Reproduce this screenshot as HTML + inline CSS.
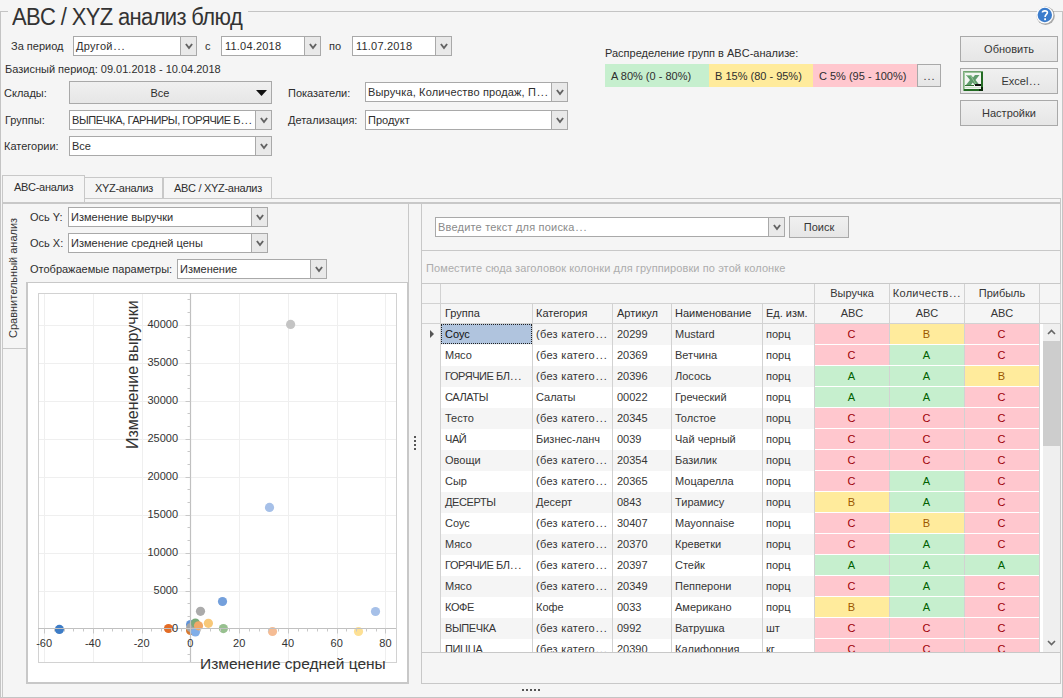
<!DOCTYPE html><html><head><meta charset="utf-8"><style>
html,body{margin:0;padding:0}
body{width:1063px;height:698px;overflow:hidden;position:relative;background:#f5f5f5;font-family:"Liberation Sans",sans-serif;font-size:11px;color:#363636}
.t{position:absolute;white-space:nowrap;line-height:13px}
.b{position:absolute}
.e{letter-spacing:0.9px;margin-left:0.8px}
</style></head><body><div class="b" style="left:0px;top:11px;width:1063px;height:687px;border:1px solid #c4c4c4;box-sizing:border-box"></div><div class="b" style="left:8px;top:5px;width:240px;height:16px;background:#f5f5f5"></div><div class="t" style="left:12px;top:4.2px;font-size:22px;color:#2e2e2e;line-height:26px;color:#333;letter-spacing:-0.65px;transform:scaleY(1.067);transform-origin:0 5px">ABC / XYZ анализ блюд</div><svg width="24" height="24" viewBox="0 0 24 24" style="position:absolute;left:1033px;top:3px">
<circle cx="12.6" cy="12.8" r="9.2" fill="#6a6a6a" opacity="0.55"/>
<circle cx="11.8" cy="12" r="8.6" fill="#fdfdfd"/>
<circle cx="11.8" cy="12" r="7.2" fill="#3b7ccc"/>
<path d="M9.4 9.6 C9.4 7.4 14.4 7.1 14.4 9.6 C14.4 11.3 12.1 11.6 12.1 13.9" fill="none" stroke="#fff" stroke-width="1.6"/>
<rect x="11.2" y="15.3" width="1.8" height="1.9" fill="#fff"/>
</svg><div class="t" style="left:11px;top:40px;font-size:11px;color:#2e2e2e;">За период</div><div class="b" style="left:73px;top:36px;width:124px;height:20px;background:#fff;border:1px solid #a9a9a9;box-sizing:border-box"></div><div class="b" style="left:180px;top:36px;width:17px;height:20px;background:#e9e9e9;border:1px solid #a9a9a9;box-sizing:border-box"></div><svg width="8" height="7" viewBox="0 0 8 7" style="position:absolute;left:184.5px;top:42.5px"><path d="M0.9 1 L4 5 L7.1 1" fill="none" stroke="#636363" stroke-width="1.9"/></svg><div class="t" style="left:76px;top:40px;font-size:11px;color:#2e2e2e;letter-spacing:0.3px">Другой<span class="e">...</span></div><div class="t" style="left:205px;top:40px;font-size:11px;color:#2e2e2e;">с</div><div class="b" style="left:221px;top:36px;width:100px;height:20px;background:#fff;border:1px solid #a9a9a9;box-sizing:border-box"></div><div class="b" style="left:304px;top:36px;width:17px;height:20px;background:#e9e9e9;border:1px solid #a9a9a9;box-sizing:border-box"></div><svg width="8" height="7" viewBox="0 0 8 7" style="position:absolute;left:308.5px;top:42.5px"><path d="M0.9 1 L4 5 L7.1 1" fill="none" stroke="#636363" stroke-width="1.9"/></svg><div class="t" style="left:225px;top:40px;font-size:11px;color:#2e2e2e;letter-spacing:0.2px">11.04.2018</div><div class="t" style="left:329px;top:40px;font-size:11px;color:#2e2e2e;">по</div><div class="b" style="left:352px;top:36px;width:100px;height:20px;background:#fff;border:1px solid #a9a9a9;box-sizing:border-box"></div><div class="b" style="left:435px;top:36px;width:17px;height:20px;background:#e9e9e9;border:1px solid #a9a9a9;box-sizing:border-box"></div><svg width="8" height="7" viewBox="0 0 8 7" style="position:absolute;left:439.5px;top:42.5px"><path d="M0.9 1 L4 5 L7.1 1" fill="none" stroke="#636363" stroke-width="1.9"/></svg><div class="t" style="left:356px;top:40px;font-size:11px;color:#2e2e2e;letter-spacing:0.2px">11.07.2018</div><div class="t" style="left:5px;top:63px;font-size:11px;color:#2e2e2e;">Базисный период: 09.01.2018 - 10.04.2018</div><div class="t" style="left:4px;top:87px;font-size:11px;color:#2e2e2e;">Склады:</div><div class="b" style="left:69px;top:81px;width:203px;height:23px;background:linear-gradient(#f0f0f0,#e6e6e6);border:1px solid #a9a9a9;box-sizing:border-box"></div><div class="t" style="left:69px;top:87px;font-size:11px;color:#2e2e2e;width:182px;text-align:center">Все</div><svg width="11" height="6" style="position:absolute;left:256px;top:90px"><path d="M0 0 L11 0 L5.5 6 Z" fill="#111"/></svg><div class="t" style="left:5px;top:114px;font-size:11px;color:#2e2e2e;">Группы:</div><div class="b" style="left:69px;top:110px;width:203px;height:20px;background:#fff;border:1px solid #a9a9a9;box-sizing:border-box"></div><div class="b" style="left:255px;top:110px;width:17px;height:20px;background:#e9e9e9;border:1px solid #a9a9a9;box-sizing:border-box"></div><svg width="8" height="7" viewBox="0 0 8 7" style="position:absolute;left:259.5px;top:116.5px"><path d="M0.9 1 L4 5 L7.1 1" fill="none" stroke="#636363" stroke-width="1.9"/></svg><div class="t" style="left:72px;top:114px;font-size:11px;color:#2e2e2e;letter-spacing:-0.45px">ВЫПЕЧКА, ГАРНИРЫ, ГОРЯЧИЕ Б<span class="e">...</span></div><div class="t" style="left:4px;top:140px;font-size:11px;color:#2e2e2e;">Категории:</div><div class="b" style="left:69px;top:136px;width:203px;height:20px;background:#fff;border:1px solid #a9a9a9;box-sizing:border-box"></div><div class="b" style="left:255px;top:136px;width:17px;height:20px;background:#e9e9e9;border:1px solid #a9a9a9;box-sizing:border-box"></div><svg width="8" height="7" viewBox="0 0 8 7" style="position:absolute;left:259.5px;top:142.5px"><path d="M0.9 1 L4 5 L7.1 1" fill="none" stroke="#636363" stroke-width="1.9"/></svg><div class="t" style="left:72px;top:140px;font-size:11px;color:#2e2e2e;">Все</div><div class="t" style="left:288px;top:87px;font-size:11px;color:#2e2e2e;">Показатели:</div><div class="b" style="left:365px;top:82px;width:203px;height:20px;background:#fff;border:1px solid #a9a9a9;box-sizing:border-box"></div><div class="b" style="left:551px;top:82px;width:17px;height:20px;background:#e9e9e9;border:1px solid #a9a9a9;box-sizing:border-box"></div><svg width="8" height="7" viewBox="0 0 8 7" style="position:absolute;left:555.5px;top:88.5px"><path d="M0.9 1 L4 5 L7.1 1" fill="none" stroke="#636363" stroke-width="1.9"/></svg><div class="t" style="left:368px;top:86px;font-size:11px;color:#2e2e2e;letter-spacing:0.15px">Выручка, Количество продаж, П<span class="e">...</span></div><div class="t" style="left:288px;top:114px;font-size:11px;color:#2e2e2e;">Детализация:</div><div class="b" style="left:365px;top:110px;width:203px;height:20px;background:#fff;border:1px solid #a9a9a9;box-sizing:border-box"></div><div class="b" style="left:551px;top:110px;width:17px;height:20px;background:#e9e9e9;border:1px solid #a9a9a9;box-sizing:border-box"></div><svg width="8" height="7" viewBox="0 0 8 7" style="position:absolute;left:555.5px;top:116.5px"><path d="M0.9 1 L4 5 L7.1 1" fill="none" stroke="#636363" stroke-width="1.9"/></svg><div class="t" style="left:368px;top:114px;font-size:11px;color:#2e2e2e;">Продукт</div><div class="t" style="left:605px;top:47px;font-size:11px;color:#2e2e2e;">Распределение групп в ABC-анализе:</div><div class="b" style="left:605px;top:64px;width:104px;height:23px;background:#c6efce"></div><div class="b" style="left:709px;top:64px;width:104px;height:23px;background:#ffeb9c"></div><div class="b" style="left:813px;top:64px;width:104px;height:23px;background:#ffc7ce"></div><div class="t" style="left:611px;top:70px;font-size:11px;color:#2e2e2e;">A 80% (0 - 80%)</div><div class="t" style="left:715px;top:70px;font-size:11px;color:#2e2e2e;">B 15% (80 - 95%)</div><div class="t" style="left:819px;top:70px;font-size:11px;color:#2e2e2e;">C 5% (95 - 100%)</div><div class="b" style="left:917px;top:64px;width:24px;height:23px;background:linear-gradient(#f0f0f0,#e6e6e6);border:1px solid #a9a9a9;box-sizing:border-box"></div><div class="t" style="left:917px;top:70px;width:24px;text-align:center"><span style="letter-spacing:1px;margin-left:1px">...</span></div><div class="b" style="left:960px;top:36px;width:98px;height:26px;background:linear-gradient(#f0f0f0,#e6e6e6);border:1px solid #a9a9a9;box-sizing:border-box"></div><div class="t" style="left:960px;top:43px;width:98px;text-align:center">Обновить</div><div class="b" style="left:960px;top:68px;width:98px;height:26px;background:linear-gradient(#f0f0f0,#e6e6e6);border:1px solid #a9a9a9;box-sizing:border-box"></div><div class="t" style="left:960px;top:75px;width:98px;text-align:center">&nbsp;&nbsp;&nbsp;&nbsp;&nbsp;&nbsp;&nbsp;&nbsp;Excel<span class="e">...</span></div><svg width="21" height="21" viewBox="0 0 21 21" style="position:absolute;left:963px;top:71px" shape-rendering="crispEdges">
<rect x="0" y="0" width="20" height="20" fill="#3f7f3f"/>
<rect x="0" y="0" width="20" height="1" fill="#6fa26f"/>
<rect x="0" y="0" width="1" height="20" fill="#7fae7f"/>
<rect x="1" y="1" width="18" height="1" fill="#9cc49c"/>
<rect x="1" y="1" width="1" height="18" fill="#a4c8a4"/>
<rect x="18" y="1" width="2" height="19" fill="#236b23"/>
<rect x="1" y="18" width="19" height="2" fill="#236b23"/>
<rect x="16" y="16" width="4" height="4" fill="#0a2a0a"/>
<rect x="2" y="2" width="16" height="16" fill="#f2f6f2"/>
<path d="M3 4 L8 4 L10 6.5 L12 4 L16.5 4 L12.5 9 L16.5 14 L11.5 14 L9.8 11.5 L8 14 L3 14 L7 9 Z" fill="#5f9c6c" shape-rendering="auto"/>
<path d="M4 4.5 L7.5 4.5 L13 13.5" stroke="#9fd09f" stroke-width="0.8" fill="none" shape-rendering="auto"/>
<rect x="12" y="13" width="6" height="2" fill="#101010"/>
<rect x="2" y="14" width="9" height="1" fill="#2f6f2f"/>
<rect x="2" y="16" width="16" height="1" fill="#cfe3cf"/>
</svg><div class="b" style="left:960px;top:100px;width:98px;height:26px;background:linear-gradient(#f0f0f0,#e6e6e6);border:1px solid #a9a9a9;box-sizing:border-box"></div><div class="t" style="left:960px;top:107px;width:98px;text-align:center">Настройки</div><div class="b" style="left:271px;top:198px;width:790px;height:1px;background:#c8c8c8"></div><div class="b" style="left:1060px;top:198px;width:1px;height:6px;background:#c8c8c8"></div><div class="b" style="left:84px;top:177px;width:79px;height:22px;border:1px solid #c8c8c8;box-sizing:border-box;background:#f5f5f5"></div><div class="b" style="left:163px;top:177px;width:109px;height:22px;border:1px solid #c8c8c8;box-sizing:border-box;background:#f5f5f5"></div><div class="b" style="left:2px;top:175px;width:83px;height:29px;border:1px solid #c8c8c8;border-bottom:none;box-sizing:border-box;background:#f5f5f5"></div><div class="t" style="left:14px;top:181px;font-size:11px;color:#2e2e2e;letter-spacing:-0.3px">ABC-анализ</div><div class="t" style="left:95px;top:182px;font-size:11px;color:#2e2e2e;letter-spacing:-0.3px">XYZ-анализ</div><div class="t" style="left:174px;top:182px;font-size:11px;color:#2e2e2e;letter-spacing:-0.3px">ABC / XYZ-анализ</div><div class="b" style="left:2px;top:202px;width:1059px;height:2px;background:#c8c8c8"></div><div class="b" style="left:2px;top:202px;width:1px;height:496px;background:#c8c8c8"></div><div class="b" style="left:2px;top:348px;width:25px;height:1px;background:#c8c8c8"></div><div class="t" style="left:7px;top:338px;transform-origin:0 0;transform:rotate(-90deg);font-size:11px;line-height:13px">Сравнительный анализ</div><div class="t" style="left:30px;top:211px;font-size:11px;color:#2e2e2e;">Ось Y:</div><div class="b" style="left:68px;top:207px;width:200px;height:20px;background:#fff;border:1px solid #a9a9a9;box-sizing:border-box"></div><div class="b" style="left:251px;top:207px;width:17px;height:20px;background:#e9e9e9;border:1px solid #a9a9a9;box-sizing:border-box"></div><svg width="8" height="7" viewBox="0 0 8 7" style="position:absolute;left:255.5px;top:213.5px"><path d="M0.9 1 L4 5 L7.1 1" fill="none" stroke="#636363" stroke-width="1.9"/></svg><div class="t" style="left:71px;top:211px;font-size:11px;color:#2e2e2e;">Изменение выручки</div><div class="t" style="left:30px;top:237px;font-size:11px;color:#2e2e2e;">Ось X:</div><div class="b" style="left:68px;top:233px;width:200px;height:20px;background:#fff;border:1px solid #a9a9a9;box-sizing:border-box"></div><div class="b" style="left:251px;top:233px;width:17px;height:20px;background:#e9e9e9;border:1px solid #a9a9a9;box-sizing:border-box"></div><svg width="8" height="7" viewBox="0 0 8 7" style="position:absolute;left:255.5px;top:239.5px"><path d="M0.9 1 L4 5 L7.1 1" fill="none" stroke="#636363" stroke-width="1.9"/></svg><div class="t" style="left:71px;top:237px;font-size:11px;color:#2e2e2e;">Изменение средней цены</div><div class="t" style="left:30px;top:263px;font-size:11px;color:#2e2e2e;">Отображаемые параметры:</div><div class="b" style="left:177px;top:259px;width:150px;height:20px;background:#fff;border:1px solid #a9a9a9;box-sizing:border-box"></div><div class="b" style="left:310px;top:259px;width:17px;height:20px;background:#e9e9e9;border:1px solid #a9a9a9;box-sizing:border-box"></div><svg width="8" height="7" viewBox="0 0 8 7" style="position:absolute;left:314.5px;top:265.5px"><path d="M0.9 1 L4 5 L7.1 1" fill="none" stroke="#636363" stroke-width="1.9"/></svg><div class="t" style="left:180px;top:263px;font-size:11px;color:#2e2e2e;">Изменение</div><div class="b" style="left:26px;top:282px;width:383px;height:402px;background:#fff;border:2px solid #c8c8c8;border-top:1px solid #c8c8c8;box-sizing:border-box"></div><svg width="1063" height="698" style="position:absolute;left:0;top:0"><line x1="44.5" y1="293" x2="44.5" y2="662" stroke="#efefef" stroke-width="1"/><line x1="93.5" y1="293" x2="93.5" y2="662" stroke="#efefef" stroke-width="1"/><line x1="142.5" y1="293" x2="142.5" y2="662" stroke="#efefef" stroke-width="1"/><line x1="190.5" y1="293" x2="190.5" y2="662" stroke="#efefef" stroke-width="1"/><line x1="239.5" y1="293" x2="239.5" y2="662" stroke="#efefef" stroke-width="1"/><line x1="288.5" y1="293" x2="288.5" y2="662" stroke="#efefef" stroke-width="1"/><line x1="337.5" y1="293" x2="337.5" y2="662" stroke="#efefef" stroke-width="1"/><line x1="385.5" y1="293" x2="385.5" y2="662" stroke="#efefef" stroke-width="1"/><line x1="38" y1="591.5" x2="396" y2="591.5" stroke="#efefef" stroke-width="1"/><line x1="38" y1="553.5" x2="396" y2="553.5" stroke="#efefef" stroke-width="1"/><line x1="38" y1="515.5" x2="396" y2="515.5" stroke="#efefef" stroke-width="1"/><line x1="38" y1="477.5" x2="396" y2="477.5" stroke="#efefef" stroke-width="1"/><line x1="38" y1="439.5" x2="396" y2="439.5" stroke="#efefef" stroke-width="1"/><line x1="38" y1="401.5" x2="396" y2="401.5" stroke="#efefef" stroke-width="1"/><line x1="38" y1="363.5" x2="396" y2="363.5" stroke="#efefef" stroke-width="1"/><line x1="38" y1="325.5" x2="396" y2="325.5" stroke="#efefef" stroke-width="1"/><rect x="38.5" y="293.5" width="358" height="369" fill="none" stroke="#d2d2d2" stroke-width="1"/><circle cx="290.6" cy="324.4" r="4.6" fill="#c4c4c4"/><circle cx="269.5" cy="507.4" r="4.6" fill="#a6c0e8"/><circle cx="59.4" cy="629.4" r="4.6" fill="#3d7cc6"/><circle cx="168.5" cy="628.5" r="4.6" fill="#e36c26"/><circle cx="222.5" cy="601.5" r="4.6" fill="#74a0dc"/><circle cx="200.5" cy="611.3" r="4.6" fill="#ababab"/><circle cx="375.5" cy="611.5" r="4.6" fill="#a6c0e8"/><circle cx="190.6" cy="624.5" r="4.6" fill="#5f92d8"/><circle cx="190.6" cy="630.5" r="4.6" fill="#d8782e"/><circle cx="190.8" cy="627.5" r="4.6" fill="#a4a4a4"/><circle cx="195.4" cy="623.0" r="4.6" fill="#7aaa7a"/><circle cx="208.4" cy="623.3" r="4.6" fill="#f8c878"/><circle cx="223.4" cy="628.6" r="4.6" fill="#97c08f"/><circle cx="195.4" cy="632.0" r="4.6" fill="#80aee8"/><circle cx="198.5" cy="625.8" r="4.6" fill="#f0a868"/><circle cx="272.5" cy="631.5" r="4.6" fill="#f5bc94"/><circle cx="358.5" cy="631.5" r="4.6" fill="#fde094"/><line x1="38" y1="628.5" x2="396" y2="628.5" stroke="#c0c0c0" stroke-width="1.2"/><line x1="190.5" y1="293" x2="190.5" y2="662" stroke="#c0c0c0" stroke-width="1.2"/><line x1="44.5" y1="628.5" x2="44.5" y2="633.5" stroke="#c8c8c8" stroke-width="1"/><line x1="54.5" y1="628.5" x2="54.5" y2="631.5" stroke="#c8c8c8" stroke-width="1"/><line x1="64.5" y1="628.5" x2="64.5" y2="631.5" stroke="#c8c8c8" stroke-width="1"/><line x1="73.5" y1="628.5" x2="73.5" y2="631.5" stroke="#c8c8c8" stroke-width="1"/><line x1="83.5" y1="628.5" x2="83.5" y2="631.5" stroke="#c8c8c8" stroke-width="1"/><line x1="93.5" y1="628.5" x2="93.5" y2="633.5" stroke="#c8c8c8" stroke-width="1"/><line x1="103.5" y1="628.5" x2="103.5" y2="631.5" stroke="#c8c8c8" stroke-width="1"/><line x1="112.5" y1="628.5" x2="112.5" y2="631.5" stroke="#c8c8c8" stroke-width="1"/><line x1="122.5" y1="628.5" x2="122.5" y2="631.5" stroke="#c8c8c8" stroke-width="1"/><line x1="132.5" y1="628.5" x2="132.5" y2="631.5" stroke="#c8c8c8" stroke-width="1"/><line x1="142.5" y1="628.5" x2="142.5" y2="633.5" stroke="#c8c8c8" stroke-width="1"/><line x1="151.5" y1="628.5" x2="151.5" y2="631.5" stroke="#c8c8c8" stroke-width="1"/><line x1="161.5" y1="628.5" x2="161.5" y2="631.5" stroke="#c8c8c8" stroke-width="1"/><line x1="171.5" y1="628.5" x2="171.5" y2="631.5" stroke="#c8c8c8" stroke-width="1"/><line x1="181.5" y1="628.5" x2="181.5" y2="631.5" stroke="#c8c8c8" stroke-width="1"/><line x1="190.5" y1="628.5" x2="190.5" y2="633.5" stroke="#c8c8c8" stroke-width="1"/><line x1="200.5" y1="628.5" x2="200.5" y2="631.5" stroke="#c8c8c8" stroke-width="1"/><line x1="210.5" y1="628.5" x2="210.5" y2="631.5" stroke="#c8c8c8" stroke-width="1"/><line x1="220.5" y1="628.5" x2="220.5" y2="631.5" stroke="#c8c8c8" stroke-width="1"/><line x1="229.5" y1="628.5" x2="229.5" y2="631.5" stroke="#c8c8c8" stroke-width="1"/><line x1="239.5" y1="628.5" x2="239.5" y2="633.5" stroke="#c8c8c8" stroke-width="1"/><line x1="249.5" y1="628.5" x2="249.5" y2="631.5" stroke="#c8c8c8" stroke-width="1"/><line x1="259.5" y1="628.5" x2="259.5" y2="631.5" stroke="#c8c8c8" stroke-width="1"/><line x1="268.5" y1="628.5" x2="268.5" y2="631.5" stroke="#c8c8c8" stroke-width="1"/><line x1="278.5" y1="628.5" x2="278.5" y2="631.5" stroke="#c8c8c8" stroke-width="1"/><line x1="288.5" y1="628.5" x2="288.5" y2="633.5" stroke="#c8c8c8" stroke-width="1"/><line x1="298.5" y1="628.5" x2="298.5" y2="631.5" stroke="#c8c8c8" stroke-width="1"/><line x1="307.5" y1="628.5" x2="307.5" y2="631.5" stroke="#c8c8c8" stroke-width="1"/><line x1="317.5" y1="628.5" x2="317.5" y2="631.5" stroke="#c8c8c8" stroke-width="1"/><line x1="327.5" y1="628.5" x2="327.5" y2="631.5" stroke="#c8c8c8" stroke-width="1"/><line x1="337.5" y1="628.5" x2="337.5" y2="633.5" stroke="#c8c8c8" stroke-width="1"/><line x1="346.5" y1="628.5" x2="346.5" y2="631.5" stroke="#c8c8c8" stroke-width="1"/><line x1="356.5" y1="628.5" x2="356.5" y2="631.5" stroke="#c8c8c8" stroke-width="1"/><line x1="366.5" y1="628.5" x2="366.5" y2="631.5" stroke="#c8c8c8" stroke-width="1"/><line x1="376.5" y1="628.5" x2="376.5" y2="631.5" stroke="#c8c8c8" stroke-width="1"/><line x1="385.5" y1="628.5" x2="385.5" y2="633.5" stroke="#c8c8c8" stroke-width="1"/><line x1="185.5" y1="628.5" x2="190.5" y2="628.5" stroke="#c8c8c8" stroke-width="1"/><line x1="187.5" y1="616.5" x2="190.5" y2="616.5" stroke="#c8c8c8" stroke-width="1"/><line x1="187.5" y1="603.5" x2="190.5" y2="603.5" stroke="#c8c8c8" stroke-width="1"/><line x1="185.5" y1="591.5" x2="190.5" y2="591.5" stroke="#c8c8c8" stroke-width="1"/><line x1="187.5" y1="578.5" x2="190.5" y2="578.5" stroke="#c8c8c8" stroke-width="1"/><line x1="187.5" y1="565.5" x2="190.5" y2="565.5" stroke="#c8c8c8" stroke-width="1"/><line x1="185.5" y1="553.5" x2="190.5" y2="553.5" stroke="#c8c8c8" stroke-width="1"/><line x1="187.5" y1="540.5" x2="190.5" y2="540.5" stroke="#c8c8c8" stroke-width="1"/><line x1="187.5" y1="527.5" x2="190.5" y2="527.5" stroke="#c8c8c8" stroke-width="1"/><line x1="185.5" y1="515.5" x2="190.5" y2="515.5" stroke="#c8c8c8" stroke-width="1"/><line x1="187.5" y1="502.5" x2="190.5" y2="502.5" stroke="#c8c8c8" stroke-width="1"/><line x1="187.5" y1="489.5" x2="190.5" y2="489.5" stroke="#c8c8c8" stroke-width="1"/><line x1="185.5" y1="477.5" x2="190.5" y2="477.5" stroke="#c8c8c8" stroke-width="1"/><line x1="187.5" y1="464.5" x2="190.5" y2="464.5" stroke="#c8c8c8" stroke-width="1"/><line x1="187.5" y1="451.5" x2="190.5" y2="451.5" stroke="#c8c8c8" stroke-width="1"/><line x1="185.5" y1="439.5" x2="190.5" y2="439.5" stroke="#c8c8c8" stroke-width="1"/><line x1="187.5" y1="426.5" x2="190.5" y2="426.5" stroke="#c8c8c8" stroke-width="1"/><line x1="187.5" y1="413.5" x2="190.5" y2="413.5" stroke="#c8c8c8" stroke-width="1"/><line x1="185.5" y1="401.5" x2="190.5" y2="401.5" stroke="#c8c8c8" stroke-width="1"/><line x1="187.5" y1="388.5" x2="190.5" y2="388.5" stroke="#c8c8c8" stroke-width="1"/><line x1="187.5" y1="375.5" x2="190.5" y2="375.5" stroke="#c8c8c8" stroke-width="1"/><line x1="185.5" y1="363.5" x2="190.5" y2="363.5" stroke="#c8c8c8" stroke-width="1"/><line x1="187.5" y1="350.5" x2="190.5" y2="350.5" stroke="#c8c8c8" stroke-width="1"/><line x1="187.5" y1="337.5" x2="190.5" y2="337.5" stroke="#c8c8c8" stroke-width="1"/><line x1="185.5" y1="325.5" x2="190.5" y2="325.5" stroke="#c8c8c8" stroke-width="1"/><line x1="187.5" y1="312.5" x2="190.5" y2="312.5" stroke="#c8c8c8" stroke-width="1"/><line x1="187.5" y1="299.5" x2="190.5" y2="299.5" stroke="#c8c8c8" stroke-width="1"/><line x1="187.5" y1="641.5" x2="190.5" y2="641.5" stroke="#c8c8c8" stroke-width="1"/><line x1="187.5" y1="654.5" x2="190.5" y2="654.5" stroke="#c8c8c8" stroke-width="1"/></svg><div class="t" style="left:14.1px;top:637px;width:60px;text-align:center;color:#333">-60</div><div class="t" style="left:62.9px;top:637px;width:60px;text-align:center;color:#333">-40</div><div class="t" style="left:111.6px;top:637px;width:60px;text-align:center;color:#333">-20</div><div class="t" style="left:160.4px;top:637px;width:60px;text-align:center;color:#333">0</div><div class="t" style="left:209.2px;top:637px;width:60px;text-align:center;color:#333">20</div><div class="t" style="left:257.9px;top:637px;width:60px;text-align:center;color:#333">40</div><div class="t" style="left:306.7px;top:637px;width:60px;text-align:center;color:#333">60</div><div class="t" style="left:355.4px;top:637px;width:60px;text-align:center;color:#333">80</div><div class="t" style="left:100px;top:621.5px;width:78px;text-align:right;color:#333">0</div><div class="t" style="left:100px;top:583.5px;width:78px;text-align:right;color:#333">5000</div><div class="t" style="left:100px;top:545.5px;width:78px;text-align:right;color:#333">10000</div><div class="t" style="left:100px;top:507.5px;width:78px;text-align:right;color:#333">15000</div><div class="t" style="left:100px;top:469.6px;width:78px;text-align:right;color:#333">20000</div><div class="t" style="left:100px;top:431.6px;width:78px;text-align:right;color:#333">25000</div><div class="t" style="left:100px;top:393.6px;width:78px;text-align:right;color:#333">30000</div><div class="t" style="left:100px;top:355.6px;width:78px;text-align:right;color:#333">35000</div><div class="t" style="left:100px;top:317.6px;width:78px;text-align:right;color:#333">40000</div><div class="t" style="left:200px;top:655px;font-size:15.5px;line-height:18px;color:#333">Изменение средней цены</div><div class="t" style="left:124px;top:449px;transform-origin:0 0;transform:rotate(-90deg);font-size:16px;line-height:18px;color:#333">Изменение выручки</div><div class="b" style="left:408px;top:204px;width:1px;height:480px;background:#c8c8c8"></div><div class="b" style="left:414px;top:436px;width:2px;height:2px;background:#555"></div><div class="b" style="left:414px;top:440px;width:2px;height:2px;background:#555"></div><div class="b" style="left:414px;top:444px;width:2px;height:2px;background:#555"></div><div class="b" style="left:414px;top:448px;width:2px;height:2px;background:#555"></div><div class="b" style="left:421px;top:202px;width:640px;height:482px;border:1px solid #c8c8c8;border-top:2px solid #c8c8c8;box-sizing:border-box;background:#f5f5f5"></div><div class="b" style="left:435px;top:217px;width:350px;height:20px;background:#fff;border:1px solid #a9a9a9;box-sizing:border-box"></div><div class="b" style="left:768px;top:217px;width:17px;height:20px;background:#e9e9e9;border:1px solid #a9a9a9;box-sizing:border-box"></div><svg width="8" height="7" viewBox="0 0 8 7" style="position:absolute;left:772.5px;top:223.5px"><path d="M0.9 1 L4 5 L7.1 1" fill="none" stroke="#636363" stroke-width="1.9"/></svg><div class="t" style="left:438px;top:221px;font-size:11px;color:#8a8a8a;letter-spacing:0.2px">Введите текст для поиска<span class="e">...</span></div><div class="b" style="left:789px;top:216px;width:60px;height:22px;background:linear-gradient(#f0f0f0,#e6e6e6);border:1px solid #a9a9a9;box-sizing:border-box"></div><div class="t" style="left:789px;top:221px;width:60px;text-align:center">Поиск</div><div class="b" style="left:422px;top:250px;width:639px;height:1px;background:#c8c8c8"></div><div class="t" style="left:426px;top:262px;font-size:11px;color:#acacac;letter-spacing:0.1px">Поместите сюда заголовок колонки для группировки по этой колонке</div><div class="b" style="left:422px;top:283px;width:639px;height:1px;background:#c8c8c8"></div><div class="b" style="left:422px;top:284px;width:639px;height:40px;background:#f5f5f5"></div><div class="b" style="left:440px;top:284px;width:1px;height:369px;background:#d2d2d2"></div><div class="b" style="left:422px;top:303px;width:639px;height:1px;background:#d2d2d2"></div><div class="b" style="left:422px;top:323px;width:639px;height:1px;background:#d2d2d2"></div><div class="b" style="left:532px;top:304px;width:1px;height:20px;background:#d2d2d2"></div><div class="b" style="left:612px;top:304px;width:1px;height:20px;background:#d2d2d2"></div><div class="b" style="left:671px;top:304px;width:1px;height:20px;background:#d2d2d2"></div><div class="b" style="left:762px;top:304px;width:1px;height:20px;background:#d2d2d2"></div><div class="b" style="left:814px;top:284px;width:1px;height:40px;background:#d2d2d2"></div><div class="b" style="left:889px;top:284px;width:1px;height:40px;background:#d2d2d2"></div><div class="b" style="left:964px;top:284px;width:1px;height:40px;background:#d2d2d2"></div><div class="b" style="left:1039px;top:284px;width:1px;height:40px;background:#d2d2d2"></div><div class="b" style="left:1060px;top:284px;width:1px;height:40px;background:#d2d2d2"></div><div class="t" style="left:445px;top:307px;font-size:11px;color:#2e2e2e;">Группа</div><div class="t" style="left:536px;top:307px;font-size:11px;color:#2e2e2e;">Категория</div><div class="t" style="left:617px;top:307px;font-size:11px;color:#2e2e2e;">Артикул</div><div class="t" style="left:675px;top:307px;font-size:11px;color:#2e2e2e;">Наименование</div><div class="t" style="left:766px;top:307px;font-size:11px;color:#2e2e2e;">Ед. изм.</div><div class="t" style="left:815px;top:287px;width:74px;text-align:center;letter-spacing:0px">Выручка</div><div class="t" style="left:815px;top:307px;width:74px;text-align:center">ABC</div><div class="t" style="left:890px;top:287px;width:74px;text-align:center;letter-spacing:0.3px">Количеств<span class="e">...</span></div><div class="t" style="left:890px;top:307px;width:74px;text-align:center">ABC</div><div class="t" style="left:965px;top:287px;width:74px;text-align:center;letter-spacing:0px">Прибыль</div><div class="t" style="left:965px;top:307px;width:74px;text-align:center">ABC</div><div class="b" style="left:441px;top:324px;width:619px;height:328px;overflow:hidden"><div class="b" style="left:0;top:0px;width:374px;height:21px;background:#f5f5f5"></div><div class="b" style="left:91px;top:0px;width:1px;height:21px;background:#d2d2d2"></div><div class="b" style="left:171px;top:0px;width:1px;height:21px;background:#d2d2d2"></div><div class="b" style="left:230px;top:0px;width:1px;height:21px;background:#d2d2d2"></div><div class="b" style="left:321px;top:0px;width:1px;height:21px;background:#d2d2d2"></div><div class="t" style="left:4px;top:4px;letter-spacing:0px">Соус</div><div class="t" style="left:95px;top:4px;letter-spacing:0.3px">(без катего<span class="e">...</span></div><div class="t" style="left:176px;top:4px;letter-spacing:0px">20299</div><div class="t" style="left:234px;top:4px;letter-spacing:0px">Mustard</div><div class="t" style="left:325px;top:4px;letter-spacing:0px">порц</div><div class="b" style="left:373px;top:0px;width:75px;height:20px;background:#ffc7ce"></div><div class="t" style="left:373px;top:4px;width:75px;text-align:center;color:#9c0006">C</div><div class="b" style="left:448px;top:0px;width:75px;height:20px;background:#ffeb9c"></div><div class="t" style="left:448px;top:4px;width:75px;text-align:center;color:#9c5700">B</div><div class="b" style="left:523px;top:0px;width:75px;height:20px;background:#ffc7ce"></div><div class="t" style="left:523px;top:4px;width:75px;text-align:center;color:#9c0006">C</div><div class="b" style="left:373px;top:0px;width:1px;height:21px;background:#d2d2d2"></div><div class="b" style="left:448px;top:0px;width:1px;height:21px;background:#d2d2d2"></div><div class="b" style="left:523px;top:0px;width:1px;height:21px;background:#d2d2d2"></div><div class="b" style="left:598px;top:0px;width:1px;height:21px;background:#d2d2d2"></div><div class="b" style="left:374px;top:20px;width:224px;height:1px;background:#fff"></div><div class="b" style="left:0;top:21px;width:374px;height:21px;background:#ffffff"></div><div class="b" style="left:91px;top:21px;width:1px;height:21px;background:#d2d2d2"></div><div class="b" style="left:171px;top:21px;width:1px;height:21px;background:#d2d2d2"></div><div class="b" style="left:230px;top:21px;width:1px;height:21px;background:#d2d2d2"></div><div class="b" style="left:321px;top:21px;width:1px;height:21px;background:#d2d2d2"></div><div class="t" style="left:4px;top:25px;letter-spacing:0px">Мясо</div><div class="t" style="left:95px;top:25px;letter-spacing:0.3px">(без катего<span class="e">...</span></div><div class="t" style="left:176px;top:25px;letter-spacing:0px">20369</div><div class="t" style="left:234px;top:25px;letter-spacing:0px">Ветчина</div><div class="t" style="left:325px;top:25px;letter-spacing:0px">порц</div><div class="b" style="left:373px;top:21px;width:75px;height:20px;background:#ffc7ce"></div><div class="t" style="left:373px;top:25px;width:75px;text-align:center;color:#9c0006">C</div><div class="b" style="left:448px;top:21px;width:75px;height:20px;background:#c6efce"></div><div class="t" style="left:448px;top:25px;width:75px;text-align:center;color:#006100">A</div><div class="b" style="left:523px;top:21px;width:75px;height:20px;background:#ffc7ce"></div><div class="t" style="left:523px;top:25px;width:75px;text-align:center;color:#9c0006">C</div><div class="b" style="left:373px;top:21px;width:1px;height:21px;background:#d2d2d2"></div><div class="b" style="left:448px;top:21px;width:1px;height:21px;background:#d2d2d2"></div><div class="b" style="left:523px;top:21px;width:1px;height:21px;background:#d2d2d2"></div><div class="b" style="left:598px;top:21px;width:1px;height:21px;background:#d2d2d2"></div><div class="b" style="left:374px;top:41px;width:224px;height:1px;background:#fff"></div><div class="b" style="left:0;top:42px;width:374px;height:21px;background:#f5f5f5"></div><div class="b" style="left:91px;top:42px;width:1px;height:21px;background:#d2d2d2"></div><div class="b" style="left:171px;top:42px;width:1px;height:21px;background:#d2d2d2"></div><div class="b" style="left:230px;top:42px;width:1px;height:21px;background:#d2d2d2"></div><div class="b" style="left:321px;top:42px;width:1px;height:21px;background:#d2d2d2"></div><div class="t" style="left:4px;top:46px;letter-spacing:-0.45px">ГОРЯЧИЕ БЛ<span class="e">...</span></div><div class="t" style="left:95px;top:46px;letter-spacing:0.3px">(без катего<span class="e">...</span></div><div class="t" style="left:176px;top:46px;letter-spacing:0px">20396</div><div class="t" style="left:234px;top:46px;letter-spacing:0px">Лосось</div><div class="t" style="left:325px;top:46px;letter-spacing:0px">порц</div><div class="b" style="left:373px;top:42px;width:75px;height:20px;background:#c6efce"></div><div class="t" style="left:373px;top:46px;width:75px;text-align:center;color:#006100">A</div><div class="b" style="left:448px;top:42px;width:75px;height:20px;background:#c6efce"></div><div class="t" style="left:448px;top:46px;width:75px;text-align:center;color:#006100">A</div><div class="b" style="left:523px;top:42px;width:75px;height:20px;background:#ffeb9c"></div><div class="t" style="left:523px;top:46px;width:75px;text-align:center;color:#9c5700">B</div><div class="b" style="left:373px;top:42px;width:1px;height:21px;background:#d2d2d2"></div><div class="b" style="left:448px;top:42px;width:1px;height:21px;background:#d2d2d2"></div><div class="b" style="left:523px;top:42px;width:1px;height:21px;background:#d2d2d2"></div><div class="b" style="left:598px;top:42px;width:1px;height:21px;background:#d2d2d2"></div><div class="b" style="left:374px;top:62px;width:224px;height:1px;background:#fff"></div><div class="b" style="left:0;top:63px;width:374px;height:21px;background:#ffffff"></div><div class="b" style="left:91px;top:63px;width:1px;height:21px;background:#d2d2d2"></div><div class="b" style="left:171px;top:63px;width:1px;height:21px;background:#d2d2d2"></div><div class="b" style="left:230px;top:63px;width:1px;height:21px;background:#d2d2d2"></div><div class="b" style="left:321px;top:63px;width:1px;height:21px;background:#d2d2d2"></div><div class="t" style="left:4px;top:67px;letter-spacing:-0.4px">САЛАТЫ</div><div class="t" style="left:95px;top:67px;letter-spacing:0px">Салаты</div><div class="t" style="left:176px;top:67px;letter-spacing:0px">00022</div><div class="t" style="left:234px;top:67px;letter-spacing:0px">Греческий</div><div class="t" style="left:325px;top:67px;letter-spacing:0px">порц</div><div class="b" style="left:373px;top:63px;width:75px;height:20px;background:#c6efce"></div><div class="t" style="left:373px;top:67px;width:75px;text-align:center;color:#006100">A</div><div class="b" style="left:448px;top:63px;width:75px;height:20px;background:#c6efce"></div><div class="t" style="left:448px;top:67px;width:75px;text-align:center;color:#006100">A</div><div class="b" style="left:523px;top:63px;width:75px;height:20px;background:#ffc7ce"></div><div class="t" style="left:523px;top:67px;width:75px;text-align:center;color:#9c0006">C</div><div class="b" style="left:373px;top:63px;width:1px;height:21px;background:#d2d2d2"></div><div class="b" style="left:448px;top:63px;width:1px;height:21px;background:#d2d2d2"></div><div class="b" style="left:523px;top:63px;width:1px;height:21px;background:#d2d2d2"></div><div class="b" style="left:598px;top:63px;width:1px;height:21px;background:#d2d2d2"></div><div class="b" style="left:374px;top:83px;width:224px;height:1px;background:#fff"></div><div class="b" style="left:0;top:84px;width:374px;height:21px;background:#f5f5f5"></div><div class="b" style="left:91px;top:84px;width:1px;height:21px;background:#d2d2d2"></div><div class="b" style="left:171px;top:84px;width:1px;height:21px;background:#d2d2d2"></div><div class="b" style="left:230px;top:84px;width:1px;height:21px;background:#d2d2d2"></div><div class="b" style="left:321px;top:84px;width:1px;height:21px;background:#d2d2d2"></div><div class="t" style="left:4px;top:88px;letter-spacing:0px">Тесто</div><div class="t" style="left:95px;top:88px;letter-spacing:0.3px">(без катего<span class="e">...</span></div><div class="t" style="left:176px;top:88px;letter-spacing:0px">20345</div><div class="t" style="left:234px;top:88px;letter-spacing:0px">Толстое</div><div class="t" style="left:325px;top:88px;letter-spacing:0px">порц</div><div class="b" style="left:373px;top:84px;width:75px;height:20px;background:#ffc7ce"></div><div class="t" style="left:373px;top:88px;width:75px;text-align:center;color:#9c0006">C</div><div class="b" style="left:448px;top:84px;width:75px;height:20px;background:#ffc7ce"></div><div class="t" style="left:448px;top:88px;width:75px;text-align:center;color:#9c0006">C</div><div class="b" style="left:523px;top:84px;width:75px;height:20px;background:#ffc7ce"></div><div class="t" style="left:523px;top:88px;width:75px;text-align:center;color:#9c0006">C</div><div class="b" style="left:373px;top:84px;width:1px;height:21px;background:#d2d2d2"></div><div class="b" style="left:448px;top:84px;width:1px;height:21px;background:#d2d2d2"></div><div class="b" style="left:523px;top:84px;width:1px;height:21px;background:#d2d2d2"></div><div class="b" style="left:598px;top:84px;width:1px;height:21px;background:#d2d2d2"></div><div class="b" style="left:374px;top:104px;width:224px;height:1px;background:#fff"></div><div class="b" style="left:0;top:105px;width:374px;height:21px;background:#ffffff"></div><div class="b" style="left:91px;top:105px;width:1px;height:21px;background:#d2d2d2"></div><div class="b" style="left:171px;top:105px;width:1px;height:21px;background:#d2d2d2"></div><div class="b" style="left:230px;top:105px;width:1px;height:21px;background:#d2d2d2"></div><div class="b" style="left:321px;top:105px;width:1px;height:21px;background:#d2d2d2"></div><div class="t" style="left:4px;top:109px;letter-spacing:-0.4px">ЧАЙ</div><div class="t" style="left:95px;top:109px;letter-spacing:0px">Бизнес-ланч</div><div class="t" style="left:176px;top:109px;letter-spacing:0px">0039</div><div class="t" style="left:234px;top:109px;letter-spacing:0px">Чай черный</div><div class="t" style="left:325px;top:109px;letter-spacing:0px">порц</div><div class="b" style="left:373px;top:105px;width:75px;height:20px;background:#ffc7ce"></div><div class="t" style="left:373px;top:109px;width:75px;text-align:center;color:#9c0006">C</div><div class="b" style="left:448px;top:105px;width:75px;height:20px;background:#ffc7ce"></div><div class="t" style="left:448px;top:109px;width:75px;text-align:center;color:#9c0006">C</div><div class="b" style="left:523px;top:105px;width:75px;height:20px;background:#ffc7ce"></div><div class="t" style="left:523px;top:109px;width:75px;text-align:center;color:#9c0006">C</div><div class="b" style="left:373px;top:105px;width:1px;height:21px;background:#d2d2d2"></div><div class="b" style="left:448px;top:105px;width:1px;height:21px;background:#d2d2d2"></div><div class="b" style="left:523px;top:105px;width:1px;height:21px;background:#d2d2d2"></div><div class="b" style="left:598px;top:105px;width:1px;height:21px;background:#d2d2d2"></div><div class="b" style="left:374px;top:125px;width:224px;height:1px;background:#fff"></div><div class="b" style="left:0;top:126px;width:374px;height:21px;background:#f5f5f5"></div><div class="b" style="left:91px;top:126px;width:1px;height:21px;background:#d2d2d2"></div><div class="b" style="left:171px;top:126px;width:1px;height:21px;background:#d2d2d2"></div><div class="b" style="left:230px;top:126px;width:1px;height:21px;background:#d2d2d2"></div><div class="b" style="left:321px;top:126px;width:1px;height:21px;background:#d2d2d2"></div><div class="t" style="left:4px;top:130px;letter-spacing:0px">Овощи</div><div class="t" style="left:95px;top:130px;letter-spacing:0.3px">(без катего<span class="e">...</span></div><div class="t" style="left:176px;top:130px;letter-spacing:0px">20354</div><div class="t" style="left:234px;top:130px;letter-spacing:0px">Базилик</div><div class="t" style="left:325px;top:130px;letter-spacing:0px">порц</div><div class="b" style="left:373px;top:126px;width:75px;height:20px;background:#ffc7ce"></div><div class="t" style="left:373px;top:130px;width:75px;text-align:center;color:#9c0006">C</div><div class="b" style="left:448px;top:126px;width:75px;height:20px;background:#ffc7ce"></div><div class="t" style="left:448px;top:130px;width:75px;text-align:center;color:#9c0006">C</div><div class="b" style="left:523px;top:126px;width:75px;height:20px;background:#ffc7ce"></div><div class="t" style="left:523px;top:130px;width:75px;text-align:center;color:#9c0006">C</div><div class="b" style="left:373px;top:126px;width:1px;height:21px;background:#d2d2d2"></div><div class="b" style="left:448px;top:126px;width:1px;height:21px;background:#d2d2d2"></div><div class="b" style="left:523px;top:126px;width:1px;height:21px;background:#d2d2d2"></div><div class="b" style="left:598px;top:126px;width:1px;height:21px;background:#d2d2d2"></div><div class="b" style="left:374px;top:146px;width:224px;height:1px;background:#fff"></div><div class="b" style="left:0;top:147px;width:374px;height:21px;background:#ffffff"></div><div class="b" style="left:91px;top:147px;width:1px;height:21px;background:#d2d2d2"></div><div class="b" style="left:171px;top:147px;width:1px;height:21px;background:#d2d2d2"></div><div class="b" style="left:230px;top:147px;width:1px;height:21px;background:#d2d2d2"></div><div class="b" style="left:321px;top:147px;width:1px;height:21px;background:#d2d2d2"></div><div class="t" style="left:4px;top:151px;letter-spacing:0px">Сыр</div><div class="t" style="left:95px;top:151px;letter-spacing:0.3px">(без катего<span class="e">...</span></div><div class="t" style="left:176px;top:151px;letter-spacing:0px">20365</div><div class="t" style="left:234px;top:151px;letter-spacing:0px">Моцарелла</div><div class="t" style="left:325px;top:151px;letter-spacing:0px">порц</div><div class="b" style="left:373px;top:147px;width:75px;height:20px;background:#ffc7ce"></div><div class="t" style="left:373px;top:151px;width:75px;text-align:center;color:#9c0006">C</div><div class="b" style="left:448px;top:147px;width:75px;height:20px;background:#c6efce"></div><div class="t" style="left:448px;top:151px;width:75px;text-align:center;color:#006100">A</div><div class="b" style="left:523px;top:147px;width:75px;height:20px;background:#ffc7ce"></div><div class="t" style="left:523px;top:151px;width:75px;text-align:center;color:#9c0006">C</div><div class="b" style="left:373px;top:147px;width:1px;height:21px;background:#d2d2d2"></div><div class="b" style="left:448px;top:147px;width:1px;height:21px;background:#d2d2d2"></div><div class="b" style="left:523px;top:147px;width:1px;height:21px;background:#d2d2d2"></div><div class="b" style="left:598px;top:147px;width:1px;height:21px;background:#d2d2d2"></div><div class="b" style="left:374px;top:167px;width:224px;height:1px;background:#fff"></div><div class="b" style="left:0;top:168px;width:374px;height:21px;background:#f5f5f5"></div><div class="b" style="left:91px;top:168px;width:1px;height:21px;background:#d2d2d2"></div><div class="b" style="left:171px;top:168px;width:1px;height:21px;background:#d2d2d2"></div><div class="b" style="left:230px;top:168px;width:1px;height:21px;background:#d2d2d2"></div><div class="b" style="left:321px;top:168px;width:1px;height:21px;background:#d2d2d2"></div><div class="t" style="left:4px;top:172px;letter-spacing:-0.4px">ДЕСЕРТЫ</div><div class="t" style="left:95px;top:172px;letter-spacing:0px">Десерт</div><div class="t" style="left:176px;top:172px;letter-spacing:0px">0843</div><div class="t" style="left:234px;top:172px;letter-spacing:0px">Тирамису</div><div class="t" style="left:325px;top:172px;letter-spacing:0px">порц</div><div class="b" style="left:373px;top:168px;width:75px;height:20px;background:#ffeb9c"></div><div class="t" style="left:373px;top:172px;width:75px;text-align:center;color:#9c5700">B</div><div class="b" style="left:448px;top:168px;width:75px;height:20px;background:#c6efce"></div><div class="t" style="left:448px;top:172px;width:75px;text-align:center;color:#006100">A</div><div class="b" style="left:523px;top:168px;width:75px;height:20px;background:#ffc7ce"></div><div class="t" style="left:523px;top:172px;width:75px;text-align:center;color:#9c0006">C</div><div class="b" style="left:373px;top:168px;width:1px;height:21px;background:#d2d2d2"></div><div class="b" style="left:448px;top:168px;width:1px;height:21px;background:#d2d2d2"></div><div class="b" style="left:523px;top:168px;width:1px;height:21px;background:#d2d2d2"></div><div class="b" style="left:598px;top:168px;width:1px;height:21px;background:#d2d2d2"></div><div class="b" style="left:374px;top:188px;width:224px;height:1px;background:#fff"></div><div class="b" style="left:0;top:189px;width:374px;height:21px;background:#ffffff"></div><div class="b" style="left:91px;top:189px;width:1px;height:21px;background:#d2d2d2"></div><div class="b" style="left:171px;top:189px;width:1px;height:21px;background:#d2d2d2"></div><div class="b" style="left:230px;top:189px;width:1px;height:21px;background:#d2d2d2"></div><div class="b" style="left:321px;top:189px;width:1px;height:21px;background:#d2d2d2"></div><div class="t" style="left:4px;top:193px;letter-spacing:0px">Соус</div><div class="t" style="left:95px;top:193px;letter-spacing:0.3px">(без катего<span class="e">...</span></div><div class="t" style="left:176px;top:193px;letter-spacing:0px">30407</div><div class="t" style="left:234px;top:193px;letter-spacing:0px">Mayonnaise</div><div class="t" style="left:325px;top:193px;letter-spacing:0px">порц</div><div class="b" style="left:373px;top:189px;width:75px;height:20px;background:#ffc7ce"></div><div class="t" style="left:373px;top:193px;width:75px;text-align:center;color:#9c0006">C</div><div class="b" style="left:448px;top:189px;width:75px;height:20px;background:#ffeb9c"></div><div class="t" style="left:448px;top:193px;width:75px;text-align:center;color:#9c5700">B</div><div class="b" style="left:523px;top:189px;width:75px;height:20px;background:#ffc7ce"></div><div class="t" style="left:523px;top:193px;width:75px;text-align:center;color:#9c0006">C</div><div class="b" style="left:373px;top:189px;width:1px;height:21px;background:#d2d2d2"></div><div class="b" style="left:448px;top:189px;width:1px;height:21px;background:#d2d2d2"></div><div class="b" style="left:523px;top:189px;width:1px;height:21px;background:#d2d2d2"></div><div class="b" style="left:598px;top:189px;width:1px;height:21px;background:#d2d2d2"></div><div class="b" style="left:374px;top:209px;width:224px;height:1px;background:#fff"></div><div class="b" style="left:0;top:210px;width:374px;height:21px;background:#f5f5f5"></div><div class="b" style="left:91px;top:210px;width:1px;height:21px;background:#d2d2d2"></div><div class="b" style="left:171px;top:210px;width:1px;height:21px;background:#d2d2d2"></div><div class="b" style="left:230px;top:210px;width:1px;height:21px;background:#d2d2d2"></div><div class="b" style="left:321px;top:210px;width:1px;height:21px;background:#d2d2d2"></div><div class="t" style="left:4px;top:214px;letter-spacing:0px">Мясо</div><div class="t" style="left:95px;top:214px;letter-spacing:0.3px">(без катего<span class="e">...</span></div><div class="t" style="left:176px;top:214px;letter-spacing:0px">20370</div><div class="t" style="left:234px;top:214px;letter-spacing:0px">Креветки</div><div class="t" style="left:325px;top:214px;letter-spacing:0px">порц</div><div class="b" style="left:373px;top:210px;width:75px;height:20px;background:#ffc7ce"></div><div class="t" style="left:373px;top:214px;width:75px;text-align:center;color:#9c0006">C</div><div class="b" style="left:448px;top:210px;width:75px;height:20px;background:#c6efce"></div><div class="t" style="left:448px;top:214px;width:75px;text-align:center;color:#006100">A</div><div class="b" style="left:523px;top:210px;width:75px;height:20px;background:#ffc7ce"></div><div class="t" style="left:523px;top:214px;width:75px;text-align:center;color:#9c0006">C</div><div class="b" style="left:373px;top:210px;width:1px;height:21px;background:#d2d2d2"></div><div class="b" style="left:448px;top:210px;width:1px;height:21px;background:#d2d2d2"></div><div class="b" style="left:523px;top:210px;width:1px;height:21px;background:#d2d2d2"></div><div class="b" style="left:598px;top:210px;width:1px;height:21px;background:#d2d2d2"></div><div class="b" style="left:374px;top:230px;width:224px;height:1px;background:#fff"></div><div class="b" style="left:0;top:231px;width:374px;height:21px;background:#ffffff"></div><div class="b" style="left:91px;top:231px;width:1px;height:21px;background:#d2d2d2"></div><div class="b" style="left:171px;top:231px;width:1px;height:21px;background:#d2d2d2"></div><div class="b" style="left:230px;top:231px;width:1px;height:21px;background:#d2d2d2"></div><div class="b" style="left:321px;top:231px;width:1px;height:21px;background:#d2d2d2"></div><div class="t" style="left:4px;top:235px;letter-spacing:-0.45px">ГОРЯЧИЕ БЛ<span class="e">...</span></div><div class="t" style="left:95px;top:235px;letter-spacing:0.3px">(без катего<span class="e">...</span></div><div class="t" style="left:176px;top:235px;letter-spacing:0px">20397</div><div class="t" style="left:234px;top:235px;letter-spacing:0px">Стейк</div><div class="t" style="left:325px;top:235px;letter-spacing:0px">порц</div><div class="b" style="left:373px;top:231px;width:75px;height:20px;background:#c6efce"></div><div class="t" style="left:373px;top:235px;width:75px;text-align:center;color:#006100">A</div><div class="b" style="left:448px;top:231px;width:75px;height:20px;background:#c6efce"></div><div class="t" style="left:448px;top:235px;width:75px;text-align:center;color:#006100">A</div><div class="b" style="left:523px;top:231px;width:75px;height:20px;background:#c6efce"></div><div class="t" style="left:523px;top:235px;width:75px;text-align:center;color:#006100">A</div><div class="b" style="left:373px;top:231px;width:1px;height:21px;background:#d2d2d2"></div><div class="b" style="left:448px;top:231px;width:1px;height:21px;background:#d2d2d2"></div><div class="b" style="left:523px;top:231px;width:1px;height:21px;background:#d2d2d2"></div><div class="b" style="left:598px;top:231px;width:1px;height:21px;background:#d2d2d2"></div><div class="b" style="left:374px;top:251px;width:224px;height:1px;background:#fff"></div><div class="b" style="left:0;top:252px;width:374px;height:21px;background:#f5f5f5"></div><div class="b" style="left:91px;top:252px;width:1px;height:21px;background:#d2d2d2"></div><div class="b" style="left:171px;top:252px;width:1px;height:21px;background:#d2d2d2"></div><div class="b" style="left:230px;top:252px;width:1px;height:21px;background:#d2d2d2"></div><div class="b" style="left:321px;top:252px;width:1px;height:21px;background:#d2d2d2"></div><div class="t" style="left:4px;top:256px;letter-spacing:0px">Мясо</div><div class="t" style="left:95px;top:256px;letter-spacing:0.3px">(без катего<span class="e">...</span></div><div class="t" style="left:176px;top:256px;letter-spacing:0px">20349</div><div class="t" style="left:234px;top:256px;letter-spacing:0px">Пепперони</div><div class="t" style="left:325px;top:256px;letter-spacing:0px">порц</div><div class="b" style="left:373px;top:252px;width:75px;height:20px;background:#ffc7ce"></div><div class="t" style="left:373px;top:256px;width:75px;text-align:center;color:#9c0006">C</div><div class="b" style="left:448px;top:252px;width:75px;height:20px;background:#c6efce"></div><div class="t" style="left:448px;top:256px;width:75px;text-align:center;color:#006100">A</div><div class="b" style="left:523px;top:252px;width:75px;height:20px;background:#ffc7ce"></div><div class="t" style="left:523px;top:256px;width:75px;text-align:center;color:#9c0006">C</div><div class="b" style="left:373px;top:252px;width:1px;height:21px;background:#d2d2d2"></div><div class="b" style="left:448px;top:252px;width:1px;height:21px;background:#d2d2d2"></div><div class="b" style="left:523px;top:252px;width:1px;height:21px;background:#d2d2d2"></div><div class="b" style="left:598px;top:252px;width:1px;height:21px;background:#d2d2d2"></div><div class="b" style="left:374px;top:272px;width:224px;height:1px;background:#fff"></div><div class="b" style="left:0;top:273px;width:374px;height:21px;background:#ffffff"></div><div class="b" style="left:91px;top:273px;width:1px;height:21px;background:#d2d2d2"></div><div class="b" style="left:171px;top:273px;width:1px;height:21px;background:#d2d2d2"></div><div class="b" style="left:230px;top:273px;width:1px;height:21px;background:#d2d2d2"></div><div class="b" style="left:321px;top:273px;width:1px;height:21px;background:#d2d2d2"></div><div class="t" style="left:4px;top:277px;letter-spacing:-0.4px">КОФЕ</div><div class="t" style="left:95px;top:277px;letter-spacing:0px">Кофе</div><div class="t" style="left:176px;top:277px;letter-spacing:0px">0033</div><div class="t" style="left:234px;top:277px;letter-spacing:0px">Американо</div><div class="t" style="left:325px;top:277px;letter-spacing:0px">порц</div><div class="b" style="left:373px;top:273px;width:75px;height:20px;background:#ffeb9c"></div><div class="t" style="left:373px;top:277px;width:75px;text-align:center;color:#9c5700">B</div><div class="b" style="left:448px;top:273px;width:75px;height:20px;background:#c6efce"></div><div class="t" style="left:448px;top:277px;width:75px;text-align:center;color:#006100">A</div><div class="b" style="left:523px;top:273px;width:75px;height:20px;background:#ffc7ce"></div><div class="t" style="left:523px;top:277px;width:75px;text-align:center;color:#9c0006">C</div><div class="b" style="left:373px;top:273px;width:1px;height:21px;background:#d2d2d2"></div><div class="b" style="left:448px;top:273px;width:1px;height:21px;background:#d2d2d2"></div><div class="b" style="left:523px;top:273px;width:1px;height:21px;background:#d2d2d2"></div><div class="b" style="left:598px;top:273px;width:1px;height:21px;background:#d2d2d2"></div><div class="b" style="left:374px;top:293px;width:224px;height:1px;background:#fff"></div><div class="b" style="left:0;top:294px;width:374px;height:21px;background:#f5f5f5"></div><div class="b" style="left:91px;top:294px;width:1px;height:21px;background:#d2d2d2"></div><div class="b" style="left:171px;top:294px;width:1px;height:21px;background:#d2d2d2"></div><div class="b" style="left:230px;top:294px;width:1px;height:21px;background:#d2d2d2"></div><div class="b" style="left:321px;top:294px;width:1px;height:21px;background:#d2d2d2"></div><div class="t" style="left:4px;top:298px;letter-spacing:-0.4px">ВЫПЕЧКА</div><div class="t" style="left:95px;top:298px;letter-spacing:0.3px">(без катего<span class="e">...</span></div><div class="t" style="left:176px;top:298px;letter-spacing:0px">0992</div><div class="t" style="left:234px;top:298px;letter-spacing:0px">Ватрушка</div><div class="t" style="left:325px;top:298px;letter-spacing:0px">шт</div><div class="b" style="left:373px;top:294px;width:75px;height:20px;background:#ffc7ce"></div><div class="t" style="left:373px;top:298px;width:75px;text-align:center;color:#9c0006">C</div><div class="b" style="left:448px;top:294px;width:75px;height:20px;background:#ffc7ce"></div><div class="t" style="left:448px;top:298px;width:75px;text-align:center;color:#9c0006">C</div><div class="b" style="left:523px;top:294px;width:75px;height:20px;background:#ffc7ce"></div><div class="t" style="left:523px;top:298px;width:75px;text-align:center;color:#9c0006">C</div><div class="b" style="left:373px;top:294px;width:1px;height:21px;background:#d2d2d2"></div><div class="b" style="left:448px;top:294px;width:1px;height:21px;background:#d2d2d2"></div><div class="b" style="left:523px;top:294px;width:1px;height:21px;background:#d2d2d2"></div><div class="b" style="left:598px;top:294px;width:1px;height:21px;background:#d2d2d2"></div><div class="b" style="left:374px;top:314px;width:224px;height:1px;background:#fff"></div><div class="b" style="left:0;top:315px;width:374px;height:21px;background:#ffffff"></div><div class="b" style="left:91px;top:315px;width:1px;height:21px;background:#d2d2d2"></div><div class="b" style="left:171px;top:315px;width:1px;height:21px;background:#d2d2d2"></div><div class="b" style="left:230px;top:315px;width:1px;height:21px;background:#d2d2d2"></div><div class="b" style="left:321px;top:315px;width:1px;height:21px;background:#d2d2d2"></div><div class="t" style="left:4px;top:319px;letter-spacing:-0.4px">ПИЦЦА</div><div class="t" style="left:95px;top:319px;letter-spacing:0.3px">(без катего<span class="e">...</span></div><div class="t" style="left:176px;top:319px;letter-spacing:0px">20390</div><div class="t" style="left:234px;top:319px;letter-spacing:0px">Калифорния</div><div class="t" style="left:325px;top:319px;letter-spacing:0px">кг</div><div class="b" style="left:373px;top:315px;width:75px;height:20px;background:#ffc7ce"></div><div class="t" style="left:373px;top:319px;width:75px;text-align:center;color:#9c0006">C</div><div class="b" style="left:448px;top:315px;width:75px;height:20px;background:#ffc7ce"></div><div class="t" style="left:448px;top:319px;width:75px;text-align:center;color:#9c0006">C</div><div class="b" style="left:523px;top:315px;width:75px;height:20px;background:#ffc7ce"></div><div class="t" style="left:523px;top:319px;width:75px;text-align:center;color:#9c0006">C</div><div class="b" style="left:373px;top:315px;width:1px;height:21px;background:#d2d2d2"></div><div class="b" style="left:448px;top:315px;width:1px;height:21px;background:#d2d2d2"></div><div class="b" style="left:523px;top:315px;width:1px;height:21px;background:#d2d2d2"></div><div class="b" style="left:598px;top:315px;width:1px;height:21px;background:#d2d2d2"></div><div class="b" style="left:374px;top:335px;width:224px;height:1px;background:#fff"></div><div class="b" style="left:599px;top:0;width:20px;height:328px;background:#fff"></div></div><div class="b" style="left:441px;top:324px;width:91px;height:20px;background:#b0c4de;outline:1px dotted #222;outline-offset:-1px"></div><div class="t" style="left:445px;top:328px;font-size:11px;color:#111;">Соус</div><svg width="5" height="8" style="position:absolute;left:430px;top:330px"><path d="M0 0 L4 4 L0 8 Z" fill="#555"/></svg><div class="b" style="left:1043px;top:324px;width:17px;height:328px;background:#efefef"></div><div class="b" style="left:1043px;top:341px;width:17px;height:105px;background:#cdcdcd"></div><svg width="9" height="6" style="position:absolute;left:1047px;top:329px"><path d="M1 5 L4.5 1.5 L8 5" fill="none" stroke="#666" stroke-width="1.6"/></svg><svg width="9" height="6" style="position:absolute;left:1047px;top:640px"><path d="M1 1 L4.5 4.5 L8 1" fill="none" stroke="#666" stroke-width="1.6"/></svg><div class="b" style="left:422px;top:652px;width:639px;height:1px;background:#c8c8c8"></div><div class="b" style="left:522px;top:689px;width:2px;height:2px;background:#555"></div><div class="b" style="left:526px;top:689px;width:2px;height:2px;background:#555"></div><div class="b" style="left:530px;top:689px;width:2px;height:2px;background:#555"></div><div class="b" style="left:534px;top:689px;width:2px;height:2px;background:#555"></div><div class="b" style="left:538px;top:689px;width:2px;height:2px;background:#555"></div></body></html>
